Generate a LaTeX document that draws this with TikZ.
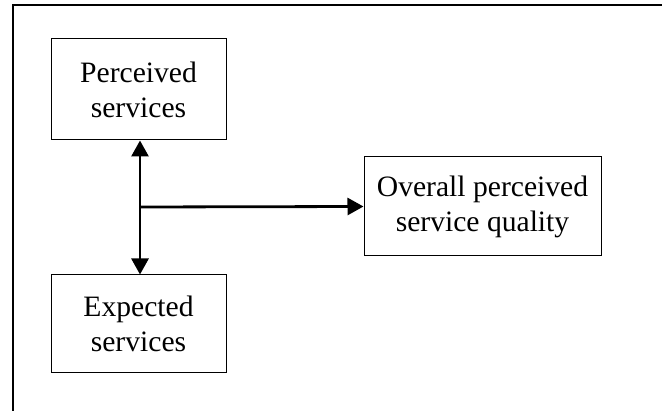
\documentclass[tikz,border=0pt]{standalone}
\usepackage{fontspec}
\setmainfont{Liberation Serif}
\usetikzlibrary{arrows.meta, positioning}

\begin{document}
\begin{tikzpicture}[
  x=1pt, y=-1pt,
  every node/.style={font=\fontsize{29.6}{35}\selectfont},
  blk/.style={draw, line width=1pt, align=center, inner sep=0pt},
  lnk/.style={-{Triangle[width=17pt, length=16pt]}, line width=2.8pt},
  frm/.style={line width=1.2pt}
]
\useasboundingbox (0,0) rectangle (662,411);

%% outer frame (top and left edges only)
\draw[frm] (13,411) -- (13,5) -- (662,5);

%% service boxes
\node[blk, minimum width=175pt, minimum height=101pt] (perc) at (138.5,89.5)
  {Perceived\\services};
\node[blk, minimum width=175pt, minimum height=98pt] (expt) at (138.5,324)
  {Expected\\services};
\node[blk, minimum width=237pt, minimum height=99pt] (qual) at (482.5,206.5)
  {Overall perceived\\service quality};

%% junction of the three arrows
\coordinate (jn) at (140,207);
\draw[lnk] (jn) -- (perc.south -| jn);
\draw[lnk] (jn) -- (expt.north -| jn);
\draw[lnk] (jn) -- (qual.west);
\end{tikzpicture}
\end{document}
